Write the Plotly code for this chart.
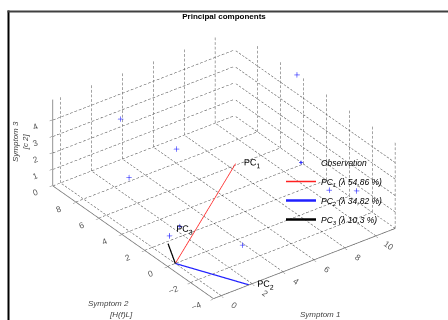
import math
import plotly.graph_objects as go

# ---------------- data ----------------
obs_x = [11.2, 2.4, 4.9, 2.2, 9.8, 10.9, 3.9, 1.4, 1.4]
obs_y = [4.5, 8.0, 6.5, 7.0, -0.2, -1.1, -0.6, 1.5, 2.4]
obs_z = [5.2, 4.0, 2.0, 1.0, 1.0, 1.0, 0.0, 1.0, 0.0]

pc_labels = ["1", "2", "3"]
pc_var = ["54,86", "34,82", "10,3"]
pc_x = [6.5, 1.8, -0.1]
pc_y = [3.5, -4.0, 0.5]
pc_z = [2.0, 0.0, 1.0]
pc_colors = ["#ff2020", "#2020ff", "#000000"]
pc_widths = [1.5, 2.5, 2.5]
pc_textpos = ["middle right", "middle right", "top right"]

x_ticks = [0, 2, 4, 6, 8, 10]
y_ticks = [-4, -2, 0, 2, 4, 6, 8]
z_ticks = [0, 1, 2, 3, 4]
x_lim = [-0.5, 11.25]
y_lim = [-4, 10]
z_lim = [0, 5.25]

FONT = "Liberation Sans"
EYE = 2.0
UNIT = 8.1   # data units per aspect-ratio unit
PAD = 0.03   # small pad so edge lines are not clipped

x0, x1 = x_lim; y0, y1 = y_lim; z0, z1 = z_lim
x_range = [x0 - PAD, x1 + PAD]
y_range = [y0 - PAD, y1 + PAD]
z_range = [z0 - PAD, z1 + PAD]

fig = go.Figure()

# ---------------- dashed grid (MATLAB-like) ----------------
gx, gy, gz = [], [], []
DASH_ON, DASH_OFF = 0.17, 0.11
def dashed(p, q):
    L = math.dist(p, q)
    t = 0.0
    while t < L:
        t2 = min(t + DASH_ON, L)
        a = [p[k] + (q[k] - p[k]) * t / L for k in range(3)]
        b = [p[k] + (q[k] - p[k]) * t2 / L for k in range(3)]
        gx.extend([a[0], b[0], None]); gy.extend([a[1], b[1], None]); gz.extend([a[2], b[2], None])
        t = t2 + DASH_OFF

for xt in x_ticks:
    dashed((xt, y0, z0), (xt, y1, z0))      # floor
    dashed((xt, y1, z0), (xt, y1, z1))      # back wall y=ymax
for yt in y_ticks:
    dashed((x0, yt, z0), (x1, yt, z0))      # floor
    dashed((x1, yt, z0), (x1, yt, z1))      # back wall x=xmax
for zt in z_ticks:
    dashed((x1, y0, zt), (x1, y1, zt))
    dashed((x0, y1, zt), (x1, y1, zt))

fig.add_trace(go.Scatter3d(x=gx, y=gy, z=gz, mode="lines",
                           line=dict(color="#484848", width=1),
                           hoverinfo="skip", showlegend=False))

# solid axis lines
ax_x = [x0, x1, None, x0, x0, None, x0, x0]
ax_y = [y0, y0, None, y0, y1, None, y1, y1]
ax_z = [z0, z0, None, z0, z0, None, z0, z1]
fig.add_trace(go.Scatter3d(x=ax_x, y=ax_y, z=ax_z, mode="lines",
                           line=dict(color="#707070", width=1.5),
                           hoverinfo="skip", showlegend=False))

# ---------------- observations ----------------
fig.add_trace(go.Scatter3d(x=obs_x, y=obs_y, z=obs_z, mode="markers",
                           name="Observation",
                           marker=dict(symbol="cross", size=3, color="#3030ff")))

# ---------------- principal components ----------------
for i in range(3):
    fig.add_trace(go.Scatter3d(
        x=[0, pc_x[i]], y=[0, pc_y[i]], z=[0, pc_z[i]], mode="lines",
        name=f"PC<sub>{pc_labels[i]}</sub> (λ {pc_var[i]} %)",
        line=dict(color=pc_colors[i], width=pc_widths[i])))
    fig.add_trace(go.Scatter3d(
        x=[pc_x[i]], y=[pc_y[i]], z=[pc_z[i]], mode="text",
        text=[f"PC<sub>{pc_labels[i]}</sub>"], textposition=pc_textpos[i],
        textfont=dict(family=FONT, size=9, color="#000000"),
        hoverinfo="skip", showlegend=False))

axis_common = dict(showgrid=False, zeroline=False, showline=False,
                   showbackground=False, showspikes=False,
                   ticks="outside", ticklen=3, tickwidth=1, tickcolor="#707070",
                   title=dict(text=""),
                   tickfont=dict(family=FONT, size=10, color="#555555"))

lab_font = dict(family=FONT, size=8, color="#444444", style="italic")

fig.update_layout(
    width=448, height=320,
    margin=dict(l=0, r=0, t=0, b=0),
    paper_bgcolor="white",
    title=dict(text="<b>Principal components</b>", x=0.5, xanchor="center",
               y=1 - 16 / 320, yanchor="middle",
               font=dict(family=FONT, size=8, color="#000000")),
    scene=dict(
        domain=dict(x=[0, 1], y=[0, 0.975]),
        xaxis=dict(range=x_range, tickvals=x_ticks, **axis_common),
        yaxis=dict(range=y_range, tickvals=y_ticks, **axis_common),
        zaxis=dict(range=z_range, tickvals=z_ticks, **axis_common),
        aspectmode="manual",
        aspectratio=dict(x=(x_range[1] - x_range[0]) / UNIT,
                         y=(y_range[1] - y_range[0]) / UNIT,
                         z=(z_range[1] - z_range[0]) / UNIT),
        camera=dict(projection=dict(type="orthographic"),
                    eye=dict(x=-0.509 * EYE, y=-0.686 * EYE, z=0.521 * EYE),
                    up=dict(x=0, y=0, z=1)),
    ),
    legend=dict(x=281 / 448, y=1 - 148 / 320, xanchor="left", yanchor="top",
                bgcolor="rgba(0,0,0,0)", itemwidth=30,
                font=dict(family=FONT, size=8.5, color="#000000", style="italic")),
    annotations=[
        dict(text="Symptom 1", x=320 / 448, y=1 - 314 / 320, xref="paper", yref="paper",
             xanchor="center", yanchor="middle", showarrow=False, font=lab_font),
        dict(text="Symptom 2", x=108 / 448, y=1 - 303 / 320, xref="paper", yref="paper",
             xanchor="center", yanchor="middle", showarrow=False, font=lab_font),
        dict(text="[H(f)L]", x=121 / 448, y=1 - 314 / 320, xref="paper", yref="paper",
             xanchor="center", yanchor="middle", showarrow=False, font=lab_font),
        dict(text="Symptom 3<br>[c 2]", x=20 / 448, y=1 - 142 / 320, xref="paper", yref="paper",
             xanchor="center", yanchor="middle", textangle=-90, showarrow=False,
             font=lab_font),
    ],
    shapes=[
        dict(type="line", xref="paper", yref="paper", x0=8.5 / 448, x1=8.5 / 448,
             y0=-0.05, y1=1 - 10.5 / 320, line=dict(color="#000000", width=2)),
        dict(type="line", xref="paper", yref="paper", x0=7.5 / 448, x1=1.05,
             y0=1 - 11.5 / 320, y1=1 - 11.5 / 320, line=dict(color="#404040", width=2)),
    ],
)

fig.write_html("out.html")
